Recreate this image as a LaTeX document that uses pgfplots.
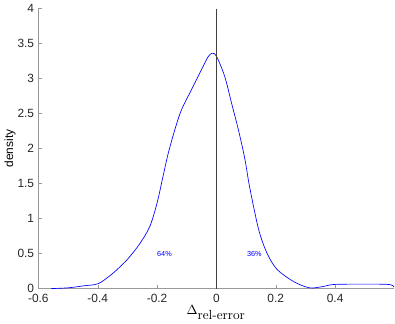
\documentclass[border=0pt]{standalone}
\usepackage{pgfplots}
\pgfplotsset{compat=1.18}
\usepackage{fontspec}
\setsansfont{Liberation Sans}
\begin{document}
\begin{tikzpicture}
\begin{axis}[
    scale only axis,
    width=268.5pt, height=211.5pt,
    xmin=-0.6, xmax=0.598,
    ymin=0, ymax=4,
    axis x line*=bottom,
    axis y line*=left,
    axis line style={gray!80},
    tick align=inside,
    major tick length=3pt,
    tick style={gray!80},
    xtick={-0.6,-0.4,-0.2,0,0.2,0.4},
    ytick={0,0.5,...,4},
    /pgf/number format/assume math mode=true,
    xticklabel style={font=\sffamily\fontsize{9}{10}\selectfont, text=black!85, /pgf/number format/fixed, yshift=-1pt},
    yticklabel style={font=\sffamily\fontsize{9}{10}\selectfont, text=black!85, /pgf/number format/fixed, inner xsep=1pt, xshift=-2pt},
    xlabel={$\Delta_{\textrm{rel-error}}$},
    xlabel style={font=\fontsize{10}{12}\selectfont, yshift=5pt},
    ylabel={density},
    ylabel style={font=\sffamily\fontsize{9}{10}\selectfont, yshift=-3pt},
    clip=false,
]
% density curve
\addplot[blue, line width=0.5pt, smooth, tension=0.5] coordinates {
    (-0.556,0) (-0.5,0.01) (-0.445,0.04) (-0.398,0.07) (-0.354,0.2)
    (-0.32,0.33) (-0.297,0.43) (-0.26,0.63) (-0.225,0.88) (-0.2,1.22)
    (-0.18,1.6) (-0.163,1.92) (-0.14,2.27) (-0.118,2.55) (-0.084,2.84)
    (-0.045,3.17) (-0.028,3.31) (-0.015,3.36) (0.0,3.32) (0.028,3.03)
    (0.051,2.65) (0.074,2.27) (0.096,1.85) (0.112,1.45) (0.142,0.85)
    (0.169,0.52) (0.203,0.28) (0.26,0.10) (0.314,0.01) (0.361,0.03)
    (0.405,0.06) (0.574,0.06) (0.598,0.02)
};
% zero line
\addplot[black!75, line width=0.5pt] coordinates {(0,0) (0,4)};
\node[blue, font=\sffamily\fontsize{5.5}{6}\selectfont] at (axis cs:-0.175,0.5) {64\%};
\node[blue, font=\sffamily\fontsize{5.5}{6}\selectfont] at (axis cs:0.128,0.5) {36\%};
\end{axis}
\end{tikzpicture}
\end{document}
